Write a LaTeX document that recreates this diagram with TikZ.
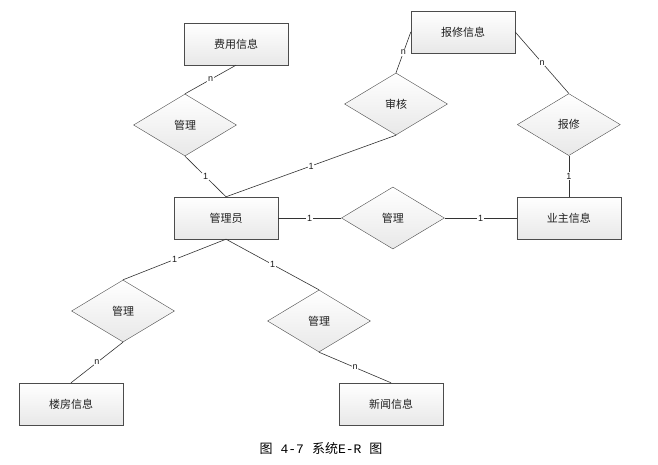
\documentclass[tikz,border=0pt]{standalone}
\usepackage{fontspec}
\setmainfont{Liberation Sans}
\setmonofont{Liberation Mono}
\newfontfamily\cjk{Noto Sans CJK SC}
\usetikzlibrary{shapes.geometric,shadows,positioning}

\begin{document}
\begin{tikzpicture}[x=1pt,y=-1pt,
    ent/.style={rectangle,draw=gray!60!black,top color=white,bottom color=gray!18,
      drop shadow={shadow xshift=1.2pt,shadow yshift=-1.2pt,opacity=0.25},
      minimum width=104pt,minimum height=42pt,text=gray!25!black,
      font=\cjk\fontsize{11}{13}\selectfont},
    rel/.style={diamond,draw=gray!60!black,top color=white,bottom color=gray!18,
      minimum width=103pt,minimum height=62pt,inner sep=0pt,text=gray!25!black,
      font=\cjk\fontsize{11}{13}\selectfont},
    card/.style={fill=white,inner sep=0.8pt,text=gray!20!black,font=\fontsize{9}{10}\selectfont},
    link/.style={draw=gray!40!black,line width=0.6pt}]
 \useasboundingbox (0,0) rectangle (658,465);
 \node[ent] (admin) at (226,218) {管理员};
 \node[rel,right=63pt of admin] (mOwner) {管理};
 \node[ent,right=72pt of mOwner] (owner) {业主信息};
 \node[rel,above=41pt of owner] (repair) {报修};
 \node[ent] (fee) at (236,44) {费用信息};
 \node[rel] (mFee) at (185,125) {管理};
 \node[ent] (repInfo) at (463,32) {报修信息};
 \node[rel] (audit) at (396,104) {审核};
 \node[rel] (mBldg) at (123,311) {管理};
 \node[ent] (bldg) at (71,404) {楼房信息};
 \node[rel] (mNews) at (319,321) {管理};
 \node[ent] (news) at (391,404) {新闻信息};
 \node[font=\cjk\fontsize{13}{15}\selectfont] (cap) at (321,449)
  {图\hspace{8pt}{\ttfamily 4-7}\hspace{8pt}系统{\ttfamily E-R}\hspace{8pt}图};
 \path[link] foreach \A/\B/\C in {fee.south/mFee.north/n, mFee.south/admin.north/1,
   admin.north/audit.south/1, audit.north/repInfo.west/n, repInfo.east/repair.north/n,
   repair.south/owner.north/1, admin.east/mOwner.west/1, mOwner.east/owner.west/1,
   admin.south/mBldg.north/1, admin.south/mNews.north/1, mBldg.south/bldg.north/n,
   mNews.south/news.north/n}
  {(\A) edge node[card] {\C} (\B)};
\end{tikzpicture}
\end{document}
